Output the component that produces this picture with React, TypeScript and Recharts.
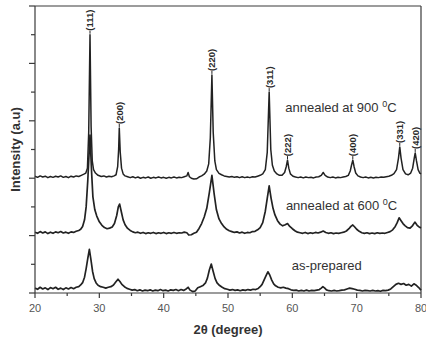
import React from 'react';
import { LineChart, Line, XAxis, YAxis, ReferenceLine, ReferenceDot } from 'recharts';

// XRD patterns: 2θ (degree) vs. stacked intensity (a.u.)
const asPrepared: [number, number][] = [
  [20.0, 0.17], [20.4, 0.13], [20.8, 0.2], [21.2, 0.14], [21.6, 0.18], [22.0, 0.12], [22.4, 0.19], [22.8, 0.15],
  [23.2, 0.2], [23.6, 0.13], [24.0, 0.17], [24.4, 0.12], [24.8, 0.18], [25.2, 0.14], [25.6, 0.19], [26.0, 0.15],
  [26.4, 0.2], [26.8, 0.22], [27.1, 0.28], [27.4, 0.36], [27.7, 0.55], [27.95, 0.85], [28.2, 1.2], [28.45, 1.52],
  [28.7, 1.15], [28.95, 0.75], [29.2, 0.5], [29.5, 0.35], [29.8, 0.27], [30.2, 0.22], [30.6, 0.2], [31.0, 0.17],
  [31.4, 0.2], [31.8, 0.22], [32.2, 0.28], [32.55, 0.38], [32.9, 0.48], [33.2, 0.4], [33.5, 0.3], [33.9, 0.22],
  [34.3, 0.16], [34.7, 0.13], [35.1, 0.1], [35.5, 0.12], [35.9, 0.08], [36.3, 0.11], [36.7, 0.07], [37.1, 0.1],
  [37.5, 0.08], [37.9, 0.11], [38.3, 0.07], [38.7, 0.1], [39.1, 0.08], [39.5, 0.12], [39.9, 0.08], [40.3, 0.1],
  [40.7, 0.07], [41.1, 0.11], [41.5, 0.09], [41.9, 0.12], [42.3, 0.08], [42.7, 0.12], [43.1, 0.09], [43.5, 0.14],
  [43.8, 0.2], [44.1, 0.1], [44.5, 0.05], [44.9, 0.07], [45.3, 0.18], [45.7, 0.22], [46.1, 0.26], [46.5, 0.35],
  [46.8, 0.52], [47.1, 0.8], [47.4, 1.01], [47.7, 0.75], [48.0, 0.5], [48.3, 0.35], [48.7, 0.26], [49.1, 0.2],
  [49.5, 0.15], [49.9, 0.13], [50.3, 0.1], [50.7, 0.12], [51.1, 0.09], [51.5, 0.11], [51.9, 0.08], [52.3, 0.11],
  [52.7, 0.09], [53.1, 0.12], [53.5, 0.1], [53.9, 0.13], [54.3, 0.12], [54.7, 0.16], [55.0, 0.22], [55.3, 0.3],
  [55.6, 0.45], [55.9, 0.6], [56.2, 0.74], [56.5, 0.62], [56.8, 0.45], [57.1, 0.32], [57.4, 0.25], [57.8, 0.2],
  [58.2, 0.18], [58.6, 0.2], [59.0, 0.17], [59.4, 0.15], [59.8, 0.11], [60.2, 0.09], [60.6, 0.1], [61.0, 0.07],
  [61.4, 0.09], [61.8, 0.07], [62.2, 0.1], [62.6, 0.07], [63.0, 0.09], [63.4, 0.08], [63.8, 0.1], [64.2, 0.12],
  [64.5, 0.17], [64.75, 0.22], [65.0, 0.18], [65.3, 0.11], [65.7, 0.08], [66.1, 0.07], [66.5, 0.09], [66.9, 0.07],
  [67.3, 0.08], [67.7, 0.1], [68.1, 0.11], [68.5, 0.14], [68.9, 0.17], [69.3, 0.15], [69.7, 0.13], [70.1, 0.1],
  [70.5, 0.09], [70.9, 0.07], [71.3, 0.09], [71.7, 0.08], [72.1, 0.07], [72.5, 0.09], [72.9, 0.07], [73.3, 0.08],
  [73.7, 0.06], [74.1, 0.09], [74.5, 0.08], [74.9, 0.1], [75.3, 0.14], [75.7, 0.22], [76.1, 0.3], [76.5, 0.34],
  [76.9, 0.3], [77.3, 0.33], [77.7, 0.27], [78.1, 0.3], [78.5, 0.24], [78.9, 0.32], [79.2, 0.28], [79.6, 0.2],
  [80.0, 0.1],
];

const annealed600: [number, number][] = [
  [20.0, 2.12], [20.4, 2.08], [20.8, 2.14], [21.2, 2.09], [21.6, 2.13], [22.0, 2.07], [22.4, 2.12], [22.8, 2.08],
  [23.2, 2.13], [23.6, 2.1], [24.0, 2.14], [24.4, 2.09], [24.8, 2.12], [25.2, 2.08], [25.6, 2.13], [26.0, 2.11],
  [26.4, 2.15], [26.8, 2.18], [27.1, 2.22], [27.4, 2.32], [27.7, 2.55], [27.95, 3.0], [28.2, 3.9], [28.55, 5.5],
  [28.8, 4.2], [29.0, 3.35], [29.3, 2.9], [29.6, 2.68], [30.0, 2.48], [30.4, 2.36], [30.8, 2.28], [31.2, 2.24],
  [31.6, 2.26], [32.0, 2.3], [32.35, 2.42], [32.7, 2.7], [32.95, 3.0], [33.15, 3.1], [33.4, 2.85], [33.7, 2.55],
  [34.0, 2.38], [34.4, 2.25], [34.8, 2.18], [35.2, 2.13], [35.6, 2.1], [36.0, 2.12], [36.4, 2.08], [36.8, 2.11],
  [37.2, 2.07], [37.6, 2.1], [38.0, 2.08], [38.4, 2.11], [38.8, 2.07], [39.2, 2.1], [39.6, 2.08], [40.0, 2.11],
  [40.4, 2.07], [40.8, 2.1], [41.2, 2.08], [41.6, 2.11], [42.0, 2.08], [42.4, 2.1], [42.8, 2.09], [43.2, 2.12],
  [43.6, 2.1], [43.9, 2.02], [44.3, 2.03], [44.7, 2.08], [45.1, 2.12], [45.5, 2.25], [45.9, 2.42], [46.3, 2.65],
  [46.7, 2.95], [47.1, 3.5], [47.5, 4.1], [47.85, 3.45], [48.2, 2.9], [48.6, 2.58], [49.0, 2.42], [49.4, 2.3],
  [49.8, 2.22], [50.2, 2.17], [50.6, 2.14], [51.0, 2.11], [51.4, 2.13], [51.8, 2.09], [52.2, 2.12], [52.6, 2.08],
  [53.0, 2.11], [53.4, 2.1], [53.8, 2.14], [54.2, 2.15], [54.6, 2.2], [55.0, 2.28], [55.4, 2.45], [55.8, 2.85],
  [56.1, 3.3], [56.4, 3.73], [56.7, 3.3], [57.0, 2.95], [57.3, 2.72], [57.7, 2.52], [58.1, 2.4], [58.5, 2.34],
  [58.9, 2.38], [59.25, 2.42], [59.6, 2.32], [60.0, 2.24], [60.4, 2.17], [60.8, 2.12], [61.2, 2.1], [61.6, 2.08],
  [62.0, 2.11], [62.4, 2.07], [62.8, 2.1], [63.2, 2.08], [63.6, 2.11], [64.0, 2.09], [64.4, 2.12], [64.8, 2.16],
  [65.2, 2.11], [65.6, 2.08], [66.0, 2.1], [66.4, 2.07], [66.8, 2.09], [67.2, 2.08], [67.6, 2.1], [68.0, 2.12],
  [68.4, 2.16], [68.8, 2.24], [69.1, 2.32], [69.4, 2.37], [69.7, 2.3], [70.0, 2.22], [70.4, 2.15], [70.8, 2.1],
  [71.2, 2.08], [71.6, 2.1], [72.0, 2.07], [72.4, 2.09], [72.8, 2.07], [73.2, 2.1], [73.6, 2.08], [74.0, 2.09],
  [74.4, 2.08], [74.8, 2.11], [75.2, 2.14], [75.6, 2.2], [76.0, 2.32], [76.3, 2.45], [76.6, 2.62], [76.9, 2.52],
  [77.2, 2.42], [77.5, 2.35], [77.9, 2.28], [78.3, 2.26], [78.7, 2.35], [79.05, 2.47], [79.4, 2.36], [79.7, 2.3],
  [80.0, 2.27],
];

const annealed900: [number, number][] = [
  [20.0, 4.07], [20.4, 4.03], [20.8, 4.08], [21.2, 4.04], [21.6, 4.07], [22.0, 4.02], [22.4, 4.06], [22.8, 4.03],
  [23.2, 4.07], [23.6, 4.04], [24.0, 4.08], [24.4, 4.03], [24.8, 4.06], [25.2, 4.02], [25.6, 4.07], [26.0, 4.04],
  [26.4, 4.08], [26.8, 4.06], [27.2, 4.1], [27.6, 4.14], [27.9, 4.18], [28.15, 4.35], [28.35, 5.6], [28.55, 9.0],
  [28.72, 5.8], [28.9, 4.6], [29.1, 4.3], [29.4, 4.18], [29.8, 4.1], [30.3, 4.06], [30.7, 4.08], [31.1, 4.04],
  [31.5, 4.07], [31.9, 4.05], [32.3, 4.08], [32.6, 4.12], [32.85, 4.4], [33.0, 5.0], [33.1, 5.75], [33.25, 4.9],
  [33.45, 4.35], [33.7, 4.15], [34.0, 4.08], [34.4, 4.05], [34.8, 4.02], [35.2, 4.05], [35.6, 4.01], [36.0, 4.04],
  [36.4, 4.0], [36.8, 4.03], [37.2, 4.01], [37.6, 4.04], [38.0, 4.0], [38.4, 4.03], [38.8, 4.01], [39.2, 4.04],
  [39.6, 4.01], [40.0, 4.03], [40.4, 4.0], [40.8, 4.03], [41.2, 4.01], [41.6, 4.04], [42.0, 4.01], [42.4, 4.03],
  [42.8, 4.02], [43.2, 4.05], [43.6, 4.08], [43.8, 4.2], [44.0, 4.05], [44.3, 4.0], [44.7, 3.97], [45.1, 3.98],
  [45.5, 4.04], [45.9, 4.08], [46.3, 4.14], [46.7, 4.25], [47.0, 4.5], [47.25, 5.4], [47.5, 7.6], [47.7, 5.6],
  [47.95, 4.6], [48.2, 4.3], [48.6, 4.17], [49.0, 4.12], [49.4, 4.08], [49.8, 4.06], [50.2, 4.04], [50.6, 4.06],
  [51.0, 4.03], [51.4, 4.05], [51.8, 4.02], [52.2, 4.05], [52.6, 4.02], [53.0, 4.04], [53.4, 4.02], [53.8, 4.05],
  [54.2, 4.04], [54.6, 4.07], [55.0, 4.1], [55.4, 4.15], [55.8, 4.3], [56.1, 4.9], [56.4, 7.0], [56.65, 5.0],
  [56.9, 4.45], [57.2, 4.25], [57.6, 4.15], [58.0, 4.1], [58.4, 4.1], [58.8, 4.2], [59.05, 4.4], [59.25, 4.63],
  [59.45, 4.35], [59.7, 4.15], [60.1, 4.07], [60.5, 4.04], [60.9, 4.02], [61.3, 4.04], [61.7, 4.01], [62.1, 4.04],
  [62.5, 4.02], [62.9, 4.03], [63.3, 4.01], [63.7, 4.04], [64.1, 4.05], [64.5, 4.1], [64.8, 4.2], [65.1, 4.1],
  [65.5, 4.04], [65.9, 4.02], [66.3, 4.04], [66.7, 4.01], [67.1, 4.03], [67.5, 4.02], [67.9, 4.04], [68.3, 4.06],
  [68.7, 4.1], [69.0, 4.25], [69.2, 4.45], [69.4, 4.63], [69.6, 4.4], [69.85, 4.18], [70.2, 4.08], [70.6, 4.04],
  [71.0, 4.02], [71.4, 4.04], [71.8, 4.01], [72.2, 4.03], [72.6, 4.01], [73.0, 4.03], [73.4, 4.02], [73.8, 4.04],
  [74.2, 4.03], [74.6, 4.05], [75.0, 4.07], [75.4, 4.1], [75.8, 4.16], [76.2, 4.3], [76.5, 4.7], [76.7, 5.09],
  [76.9, 4.7], [77.2, 4.3], [77.6, 4.15], [78.0, 4.12], [78.4, 4.18], [78.7, 4.35], [78.95, 4.7], [79.1, 4.88],
  [79.3, 4.6], [79.55, 4.3], [79.8, 4.18], [80.0, 4.15],
];

// Miller indices of the reflections marked above the 900 °C pattern
const peakLabels = ['(111)', '(200)', '(220)', '(311)', '(222)', '(400)', '(331)', '(420)'];
const peakPositions = [28.55, 33.1, 47.5, 56.4, 59.25, 69.4, 76.7, 79.1];

const xTicks = [20, 25, 30, 35, 40, 45, 50, 55, 60, 65, 70, 75, 80];
const yTicks = [0, 1, 2, 3, 4, 5, 6, 7, 8, 9, 10];

const FONT = '"Liberation Sans", Arial, Helvetica, sans-serif';
const AXIS = '#3a3a3a';
const INK = '#222';
const TEXT = '#333';

const toPoints = (arr: [number, number][]) => arr.map(([x, y]) => ({ x, y }));

const peakTop = (pos: number) =>
  Math.max(...annealed900.filter(([x]) => Math.abs(x - pos) < 0.3).map(([, y]) => y));

const XTick = (props: any) => {
  const { x, y, payload } = props;
  const v = payload.value;
  const major = v % 10 === 0;
  return (
    <g>
      <line x1={x} y1={y} x2={x} y2={y + (major ? 5 : 3)} stroke={AXIS} strokeWidth={1.2} />
      {major && (
        <text x={x} y={y + 15} textAnchor="middle" dominantBaseline="central" fontSize={11} fill="#555" fontFamily={FONT}>
          {v}
        </text>
      )}
    </g>
  );
};

const YTick = (props: any) => {
  const { x, y, payload } = props;
  const major = payload.value % 2 === 0;
  return <line x1={x - (major ? 6 : 4)} y1={y} x2={x} y2={y} stroke={AXIS} strokeWidth={1.2} />;
};

const PeakMark = (label: string) => (props: any) => {
  const { cx, cy } = props;
  return (
    <g>
      <line x1={cx} y1={cy - 1} x2={cx} y2={cy - 4} stroke={INK} strokeWidth={1} />
      <text
        x={cx}
        y={cy - 4}
        transform={`rotate(-90, ${cx}, ${cy - 4})`}
        textAnchor="start"
        dominantBaseline="central"
        fontSize={9.5}
        fontWeight="bold"
        fill="#2a2a2a"
        fontFamily={FONT}
      >
        {label}
      </text>
    </g>
  );
};

const SampleText = (main: string, deg?: boolean) => (props: any) => {
  const { cx, cy } = props;
  return (
    <text x={cx} y={cy} fontSize={13} fill={TEXT} fontFamily={FONT}>
      {main}
      {deg && (
        <>
          <tspan dy={-5} fontSize={9}>0</tspan>
          <tspan dy={5}>C</tspan>
        </>
      )}
    </text>
  );
};

export default function App() {
  return (
    <div style={{ position: 'absolute', left: 0, top: 0, width: 426, height: 341, background: '#fff' }}>
      <LineChart width={426} height={341} margin={{ top: 6, right: 5, left: 0, bottom: 0 }}>
        <XAxis
          type="number"
          dataKey="x"
          domain={[20, 80]}
          ticks={xTicks}
          interval={0}
          height={48}
          stroke={AXIS}
          strokeWidth={1.2}
          tickLine={false}
          tickSize={0}
          tickMargin={0}
          tick={<XTick />}
          label={{
            content: (p: any) => {
              const vb = p.viewBox;
              return (
                <text
                  x={vb.x + vb.width / 2}
                  y={vb.y + 36}
                  textAnchor="middle"
                  dominantBaseline="central"
                  fontSize={13}
                  fontWeight="bold"
                  fill={TEXT}
                  fontFamily={FONT}
                >
                  2θ (degree)
                </text>
              );
            },
          }}
        />
        <YAxis
          type="number"
          domain={[0, 10]}
          ticks={yTicks}
          interval={0}
          width={35}
          stroke={AXIS}
          strokeWidth={1.2}
          tickLine={false}
          tickSize={0}
          tickMargin={0}
          tick={<YTick />}
          label={{
            content: (p: any) => {
              const vb = p.viewBox;
              const cx = vb.x + 15;
              const cy = vb.y + vb.height / 2;
              return (
                <text
                  x={cx}
                  y={cy}
                  transform={`rotate(-90, ${cx}, ${cy})`}
                  textAnchor="middle"
                  dominantBaseline="central"
                  fontSize={13}
                  fontWeight="bold"
                  fill={TEXT}
                  fontFamily={FONT}
                >
                  Intensity (a.u)
                </text>
              );
            },
          }}
        />
        <ReferenceLine x={80} stroke={AXIS} strokeWidth={1.2} />
        <ReferenceLine y={10} stroke={AXIS} strokeWidth={1.2} />

        <Line data={toPoints(asPrepared)} dataKey="y" type="linear" dot={false} stroke={INK} strokeWidth={1.7} strokeLinejoin="round" isAnimationActive={false} />
        <Line data={toPoints(annealed600)} dataKey="y" type="linear" dot={false} stroke={INK} strokeWidth={1.7} strokeLinejoin="round" isAnimationActive={false} />
        <Line data={toPoints(annealed900)} dataKey="y" type="linear" dot={false} stroke={INK} strokeWidth={1.5} strokeLinejoin="round" isAnimationActive={false} />

        {peakLabels.map((lbl, i) => (
          <ReferenceDot key={lbl} x={peakPositions[i]} y={peakTop(peakPositions[i])} r={0} shape={PeakMark(lbl)} />
        ))}

        <ReferenceDot x={58.9} y={6.31} r={0} shape={SampleText('annealed at 900 ', true)} />
        <ReferenceDot x={59.0} y={2.9} r={0} shape={SampleText('annealed at 600 ', true)} />
        <ReferenceDot x={59.9} y={0.8} r={0} shape={SampleText('as-prepared')} />
      </LineChart>
    </div>
  );
}
